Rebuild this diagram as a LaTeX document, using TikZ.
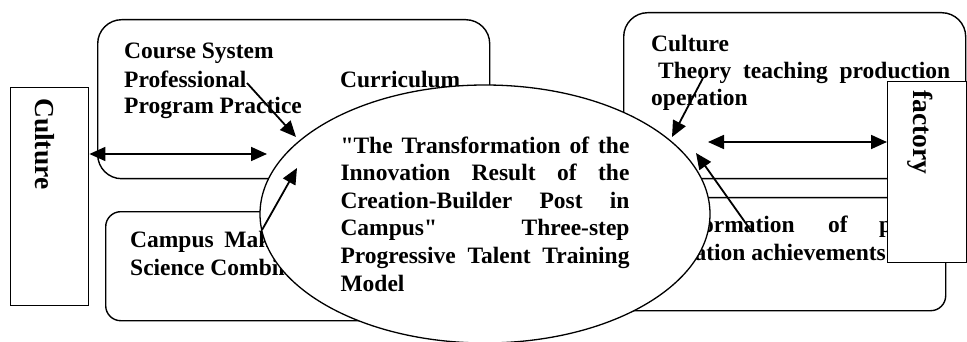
\documentclass[tikz,border=0pt]{standalone}
\usepackage{fontspec}
\setmainfont{Liberation Serif}[Ligatures=TeXOff]
\usetikzlibrary{arrows.meta,shapes.geometric}
\newcommand\jline[2]{\leavevmode\hbox to #1{\spaceskip=.25em plus 1fil\relax #2}}
\begin{document}
\begin{tikzpicture}[x=1pt,y=-1pt,
  box/.style={draw, line width=1.4pt, fill=white, inner sep=0pt, anchor=north west},
  lbl/.style={font=\bfseries\fontsize{23.5}{27.6}\selectfont, inner sep=0pt},
  vlbl/.style={font=\bfseries\fontsize{27.5}{30}\selectfont, inner sep=0pt, anchor=base west, rotate=-90},
  tip/.tip={Triangle[length=16pt,width=14pt]},
  arr/.style={line width=1.8pt, -tip},
  darr/.style={line width=1.8pt, tip-tip},
]
\useasboundingbox (0,0) rectangle (967,342);
% rounded step boxes
\node[box, rounded corners=24pt, minimum width=392pt, minimum height=159pt] (boxtl) at (97,19) {};
\node[box, rounded corners=15pt, minimum width=325pt, minimum height=109pt] (boxbl) at (105,211) {};
\node[box, rounded corners=24pt, minimum width=342pt, minimum height=166pt] (boxtr) at (623,12) {};
\node[box, rounded corners=15pt, minimum width=345pt, minimum height=113pt] (boxbr) at (600,197) {};
% texts in the boxes
\node[lbl, anchor=base west] (t1) at (124,59) {Course System};
\node[lbl, anchor=base west] (t2) at (124,88) {Professional};
\node[lbl, anchor=base west] (t3) at (340,88) {Curriculum};
\node[lbl, anchor=base west] (t4) at (124,114) {Program Practice};
\node[lbl, anchor=base west] (t5) at (130,247) {\jline{162pt}{Campus Maker}};
\node[lbl, anchor=base west] (t6) at (130,275) {Science Combination};
\node[lbl, anchor=base west] (t7) at (651,52) {Culture};
\node[lbl, anchor=base west] (t8) at (658,79) {\jline{292pt}{Theory teaching production}};
\node[lbl, anchor=base west] (t9) at (651,106) {operation};
\node[lbl, anchor=base east] (t10) at (795,232) {Transformation};
\node[lbl, anchor=base west] (t11) at (828,232) {of};
\node[lbl, anchor=base west] (t12) at (879,232) {practice};
\node[lbl, anchor=base east] (t13) at (886,260) {innovation achievements};
% central ellipse
\node[ellipse, draw, fill=white, line width=1.3pt, inner sep=0pt,
      minimum width=450pt, minimum height=258pt,
      lbl, text width=289pt, align=left] (core) at (485,214)
  {\jline{289pt}{"The Transformation of the}\\
   \jline{289pt}{Innovation Result of the}\\
   \jline{289pt}{Creation-Builder Post in}\\
   \jline{289pt}{Campus" Three-step}\\
   \jline{289pt}{Progressive Talent Training}\\
   Model};
% side boxes
\node[box, minimum width=78pt, minimum height=218pt] (culture) at (10,87) {};
\node[vlbl] (culturetxt) at (35,98) {Culture};
\node[box, minimum width=79pt, minimum height=181pt] (factory) at (887,81) {};
\node[vlbl] (factorytxt) at (913,90) {factory};
% arrows
\coordinate (dl) at (267,154);
\draw[darr] (culture.east |- dl) -- (dl);
\coordinate (a1s) at (247,83);
\coordinate (a1e) at (296,137);
\draw[arr] (a1s) -- (a1e);
\coordinate (a2s) at (262,230);
\coordinate (a2e) at (297,168);
\draw[arr] (a2s) -- (a2e);
\coordinate (a3s) at (703,78);
\coordinate (a3e) at (672,137);
\draw[arr] (a3s) -- (a3e);
\coordinate (dr) at (708,142);
\draw[darr] (dr) -- (factory.west |- dr);
\coordinate (a4s) at (752,232);
\coordinate (a4e) at (696,153);
\draw[arr] (a4s) -- (a4e);
\end{tikzpicture}
\end{document}
